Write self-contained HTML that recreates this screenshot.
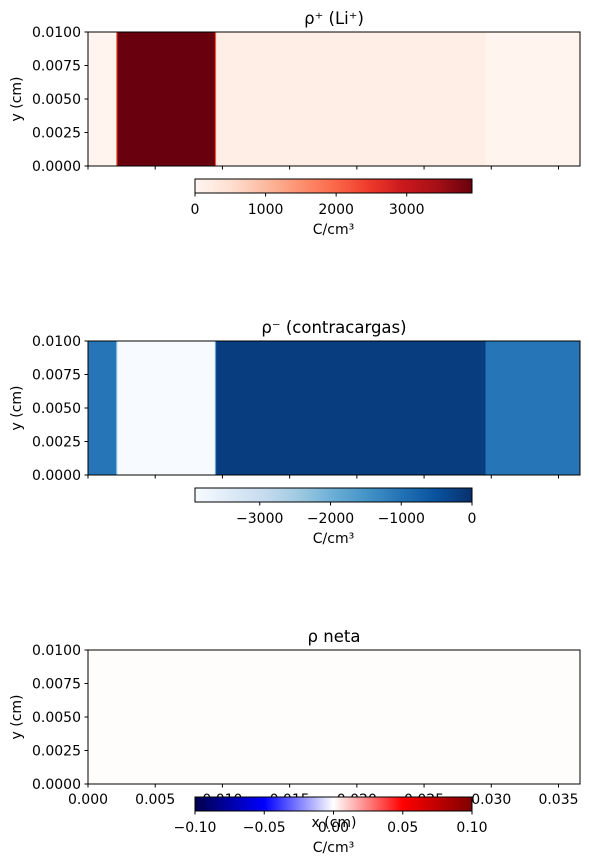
<!DOCTYPE html>
<html><head><meta charset="utf-8"><style>
html,body{margin:0;padding:0;background:#fff;}
svg{display:block;font-family:"DejaVu Sans","Liberation Sans",sans-serif;}
</style></head><body>
<svg id="fig" width="589" height="864" viewBox="0 0 589 864" xmlns="http://www.w3.org/2000/svg"></svg>
<script>
// ---- data ----
const xTicks = [0, 0.005, 0.010, 0.015, 0.020, 0.025, 0.030, 0.035];
const xTickLabels = ["0.000","0.005","0.010","0.015","0.020","0.025","0.030","0.035"];
const yTicks = [0, 0.0025, 0.005, 0.0075, 0.01];
const yTickLabels = ["0.0000","0.0025","0.0050","0.0075","0.0100"];
// column boundaries (cm) and values per panel
const segEdges = [0, 0.00210, 0.00219, 0.00944, 0.00953, 0.02957, 0.0366];
const rhoPlus = [30, 2200, 3920, 2200, 160, 30];
const rhoMinus = [-1050, -2600, -3915, -1800, -200, -1050];
const rhoNet = [0.0006, 0.0006, 0.0006, 0.0006, 0.0006, 0.0006];
const cb1Ticks = [0, 1000, 2000, 3000];
const cb2Ticks = [-3000, -2000, -1000, 0];
const cb3Ticks = [-0.10, -0.05, 0.00, 0.05, 0.10];
const cb3Labels = ["\u22120.10","\u22120.05","0.00","0.05","0.10"];

const NS = "http://www.w3.org/2000/svg";
const svg = document.getElementById("fig");
function el(tag, attrs, parent){const e=document.createElementNS(NS,tag);for(const k in attrs)e.setAttribute(k,attrs[k]);(parent||svg).appendChild(e);return e;}
function hex(h){return [parseInt(h.slice(1,3),16),parseInt(h.slice(3,5),16),parseInt(h.slice(5,7),16)];}
function lerpMap(stops){const c=stops.map(hex);return t=>{t=Math.max(0,Math.min(1,t));const p=t*(c.length-1);const i=Math.min(c.length-2,Math.floor(p));const f=p-i;return "rgb("+[0,1,2].map(k=>Math.round(c[i][k]+(c[i+1][k]-c[i][k])*f)).join(",")+")";};}
const Reds = lerpMap(["#fff5f0","#fee0d2","#fcbba1","#fc9272","#fb6a4a","#ef3b2c","#cb181d","#a50f15","#67000d"]);
const Blues = lerpMap(["#f7fbff","#deebf7","#c6dbef","#9ecae1","#6baed6","#4292c6","#2171b5","#08519c","#08306b"]);
const Seismic = lerpMap(["#00004c","#0000ff","#ffffff","#ff0000","#7f0000"]);

const AX0=88, AX1=580, XMAX=0.0366;
const sx = v => AX0 + v/XMAX*(AX1-AX0);
const CB0=195, CB1=472;

const panels = [
 {title:"\u03c1\u207a (Li\u207a)", top:32, vals:rhoPlus, cmap:Reds, vmin:0, vmax:3925, cbTicks:cb1Ticks, cbLabels:cb1Ticks.map(String), cbY:179, xlabels:false, name:"rho-plus"},
 {title:"\u03c1\u207b (contracargas)", top:341, vals:rhoMinus, cmap:Blues, vmin:-3915, vmax:0, cbTicks:cb2Ticks, cbLabels:cb2Ticks.map(v=>v<0?"\u2212"+(-v):String(v)), cbY:488, xlabels:false, name:"rho-minus"},
 {title:"\u03c1 neta", top:650, vals:rhoNet, cmap:Seismic, vmin:-0.1, vmax:0.1, cbTicks:cb3Ticks, cbLabels:cb3Labels, cbY:797, xlabels:true, name:"rho-net"}
];
const H=134;
panels.forEach(p=>{
  const g=el("g",{});
  
  
  const sy = v => p.top + H - v/0.01*H;
  p.vals.forEach((v,i)=>{
    const x0=sx(segEdges[i]), x1=sx(segEdges[i+1]);
    const t=(v-p.vmin)/(p.vmax-p.vmin);
    const r=el("rect",{x:x0,y:p.top,width:x1-x0+0.3,height:H,fill:p.cmap(t)},g);
    
    
  });
  const fr=el("rect",{x:AX0,y:p.top,width:AX1-AX0,height:H,fill:"none",stroke:"#000","stroke-width":1},g);
  
  
  const t=el("text",{x:(AX0+AX1)/2,y:p.top-8,"text-anchor":"middle","font-size":16.5},g);
  t.textContent=p.title;
  
  
  yTicks.forEach((v,i)=>{
    el("line",{x1:AX0-3.5,x2:AX0,y1:sy(v),y2:sy(v),stroke:"#000"},g);
    const l=el("text",{x:AX0-7,y:sy(v)+5,"text-anchor":"end","font-size":14},g);
    l.textContent=yTickLabels[i];
    
    
  });
  const yl=el("text",{x:0,y:0,"text-anchor":"middle","font-size":14,transform:`translate(21,${p.top+H/2}) rotate(-90)`},g);
  yl.textContent="y (cm)";
  
  
  xTicks.forEach((v,i)=>{
    el("line",{x1:sx(v),x2:sx(v),y1:p.top+H,y2:p.top+H+3.5,stroke:"#000"},g);
    if(p.xlabels){
      const l=el("text",{x:sx(v),y:p.top+H+20,"text-anchor":"middle","font-size":14},g);
      l.textContent=xTickLabels[i];
      
      
    }
  });
  if(p.xlabels){
    const xl=el("text",{x:(AX0+AX1)/2,y:p.top+H+43,"text-anchor":"middle","font-size":14},g);
    xl.textContent="x (cm)";
    
    
  }
  const gid="grad-"+p.name;
  const defs=el("defs",{},g);
  const lg=el("linearGradient",{id:gid,x1:"0",x2:"1",y1:"0",y2:"0"},defs);
  for(let k=0;k<=32;k++){el("stop",{offset:k/32,"stop-color":p.cmap(k/32)},lg);}
  const cb=el("rect",{x:CB0,y:p.cbY,width:CB1-CB0,height:14,fill:`url(#${gid})`,stroke:"#000","stroke-width":1},g);
  
  
  const cx=v=>CB0+(v-p.vmin)/(p.vmax-p.vmin)*(CB1-CB0);
  p.cbTicks.forEach((v,i)=>{
    el("line",{x1:cx(v),x2:cx(v),y1:p.cbY+14,y2:p.cbY+17.5,stroke:"#000"},g);
    const l=el("text",{x:cx(v),y:p.cbY+35,"text-anchor":"middle","font-size":14},g);
    l.textContent=p.cbLabels[i];
    
    
  });
  const cl=el("text",{x:(CB0+CB1)/2,y:p.cbY+55,"text-anchor":"middle","font-size":14},g);
  cl.textContent="C/cm\u00b3";
  
  
});
</script>
</body></html>
